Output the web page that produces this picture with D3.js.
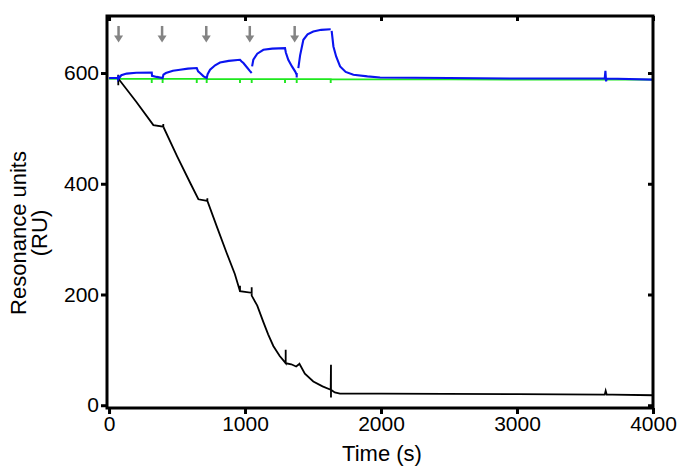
<!DOCTYPE html>
<html>
<head>
<meta charset="utf-8">
<script src="https://cdn.jsdelivr.net/npm/d3@7"></script>
<style>
  body { margin: 0; background: #fff; }
  svg { display: block; font-family: "Liberation Sans", Arial, Helvetica, sans-serif; }
</style>
</head>
<body>
<svg id="chart" width="689" height="476"></svg>
<script>
// ---- data ----
const xTicks = [0, 1000, 2000, 3000, 4000];
const yTicks = [0, 200, 400, 600];
const xTitle = "Time (s)";
const yTitleLines = ["Resonance units", "(RU)"];

// injection markers (s)
const arrowTimes = [70, 390, 715, 1035, 1365];

// black trace (time s, RU)
const blackTime = [60, 68, 68, 68, 68, 200, 326, 399, 399, 399, 500, 600, 657, 723, 723, 723, 792, 865, 925, 963, 963, 963, 1049, 1049, 1049, 1090, 1135, 1170, 1208, 1255, 1299, 1299, 1299, 1340, 1376, 1392, 1400, 1440, 1502, 1570, 1630, 1632, 1632, 1632, 1660, 1698, 2000, 3000, 3645, 3652, 3660, 3700, 4000];
const blackRU   = [590, 590, 597, 578, 590, 548, 506, 503, 508, 503, 450, 400, 372, 369, 374, 369, 323, 275, 237, 206, 216, 206, 203, 213, 198, 180, 150, 128, 107, 89, 76, 100, 76, 74, 70, 73, 75, 57, 43, 34, 28, 73, 14, 28, 23, 21, 21, 20, 19, 26, 19, 19, 18];

// blue trace (null = break in the trace)
const blueTime = [0, 68, 68, 68, 90, 130, 200, 314, 316, 350, 394, 400, 418, 470, 522, 580, 645, 655, 669, 695, 718, 725, 743, 780, 816, 880, 963, 975, 988, 1015, 1035, 1049, null, 1052, 1061, 1090, 1135, 1200, 1294, 1300, 1318, 1345, 1368, 1380, 1380, 1380, null, 1392, 1405, 1429, 1460, 1502, 1560, 1630, null, 1637, 1650, 1670, 1699, 1740, 1797, 1900, 1993, 2500, 3000, 3645, 3650, 3655, 3660, 4000];
const blueRU   = [591, 591, 596, 589, 596, 599, 600.5, 601, 595, 593, 591, 597, 600, 604, 606, 608, 609, 603, 600, 594, 591, 598, 606, 614, 619, 622, 624, 621, 618, 610, 604, 600, null, 612, 624, 635, 642, 644, 645, 637, 624, 612, 603, 597, 592, 600, null, 609, 632, 660, 670, 675, 678, 679, null, 676, 648, 630, 612, 602, 597, 594, 592, 591, 590, 590, 604, 585, 590, 588];

// green trace
const greenTime = [0, 314, 314, 314, 394, 394, 394, 645, 645, 645, 718, 718, 718, 963, 963, 963, 1049, 1049, 1049, 1294, 1294, 1294, 1380, 1380, 1380, 1630, 1630, 1630, 2500, 4000];
const greenRU   = [589.5, 589.5, 582, 589.5, 589.5, 582, 589.5, 589.5, 582, 589.5, 589.5, 582, 589.5, 589, 582, 589, 589, 582, 589, 589, 582, 589, 589, 582, 589, 589, 582, 589, 588.5, 588];

// ---- layout ----
const svg = d3.select("#chart");
const L = 107, R = 653, T = 16, B = 408;
const x = d3.scaleLinear().domain([-15, 4000]).range([L, R]);
const y = d3.scaleLinear().domain([-5, 703]).range([B, T]);

svg.append("defs").append("clipPath").attr("id", "clip")
  .append("rect").attr("x", L).attr("y", T).attr("width", R - L).attr("height", B - T);

const plot = svg.append("g").attr("clip-path", "url(#clip)");

function series(ts, vs) {
  return ts.map((t, i) => (t === null ? null : [t, vs[i]]));
}
const line = d3.line()
  .defined(d => d !== null)
  .x(d => x(d[0])).y(d => y(d[1]));

plot.append("path").datum(series(greenTime, greenRU))
  .attr("d", line).attr("fill", "none").attr("stroke", "#1ee81e").attr("stroke-width", 1.9);
plot.append("path").datum(series(blackTime, blackRU))
  .attr("d", line).attr("fill", "none").attr("stroke", "#000").attr("stroke-width", 1.8);
plot.append("path").datum(series(blueTime, blueRU))
  .attr("d", line).attr("fill", "none").attr("stroke", "#0a14f0").attr("stroke-width", 2.1);

// arrows
const arrowTop = 685, arrowShaftEnd = 668, arrowTip = 655;
const ag = svg.append("g").attr("fill", "#848484").attr("stroke", "#848484");
arrowTimes.forEach(t => {
  ag.append("line").attr("x1", x(t)).attr("x2", x(t))
    .attr("y1", y(arrowTop)).attr("y2", y(arrowShaftEnd) + 1).attr("stroke-width", 2.5);
  ag.append("path").attr("stroke", "none")
    .attr("d", `M${x(t) - 4.5},${y(arrowShaftEnd)} L${x(t) + 4.5},${y(arrowShaftEnd)} L${x(t)},${y(arrowTip)} Z`);
});

// frame
svg.append("rect").attr("x", L).attr("y", T).attr("width", R - L).attr("height", B - T)
  .attr("fill", "none").attr("stroke", "#000").attr("stroke-width", 3);

// axes
const fs = "21px";
const fmt = d3.format("d");
const gx = svg.append("g").attr("transform", `translate(0,${B})`)
  .call(d3.axisBottom(x).tickValues(xTicks).tickFormat(fmt).tickSize(6).tickSizeOuter(0).tickPadding(2));
const gy = svg.append("g").attr("transform", `translate(${L},0)`)
  .call(d3.axisLeft(y).tickValues(yTicks).tickFormat(fmt).tickSize(6).tickSizeOuter(0).tickPadding(2));
const gt = svg.append("g").attr("transform", `translate(0,${T})`)
  .call(d3.axisTop(x).tickValues(xTicks).tickSize(-5).tickSizeOuter(0).tickFormat(""));
const gr = svg.append("g").attr("transform", `translate(${R},0)`)
  .call(d3.axisRight(y).tickValues(yTicks).tickSize(-5).tickSizeOuter(0).tickFormat(""));
[gx, gy, gt, gr].forEach(g => {
  g.select(".domain").remove();
  g.selectAll(".tick line").attr("stroke", "#000").attr("stroke-width", 3);
  g.selectAll(".tick text").attr("fill", "#000").style("font-size", fs)
    .style("font-family", '"Liberation Sans", Arial, sans-serif');
});

// titles
svg.append("text").attr("x", (L + R) / 2 + 2).attr("y", 461).attr("text-anchor", "middle")
  .style("font-size", "22px").text(xTitle);
const yt = svg.append("text").attr("transform", "translate(0,233) rotate(-90)")
  .attr("text-anchor", "middle").style("font-size", "22px");
yt.append("tspan").attr("x", 0).attr("y", 26).text(yTitleLines[0]);
yt.append("tspan").attr("x", 0).attr("y", 47).text(yTitleLines[1]);
</script>
</body>
</html>
